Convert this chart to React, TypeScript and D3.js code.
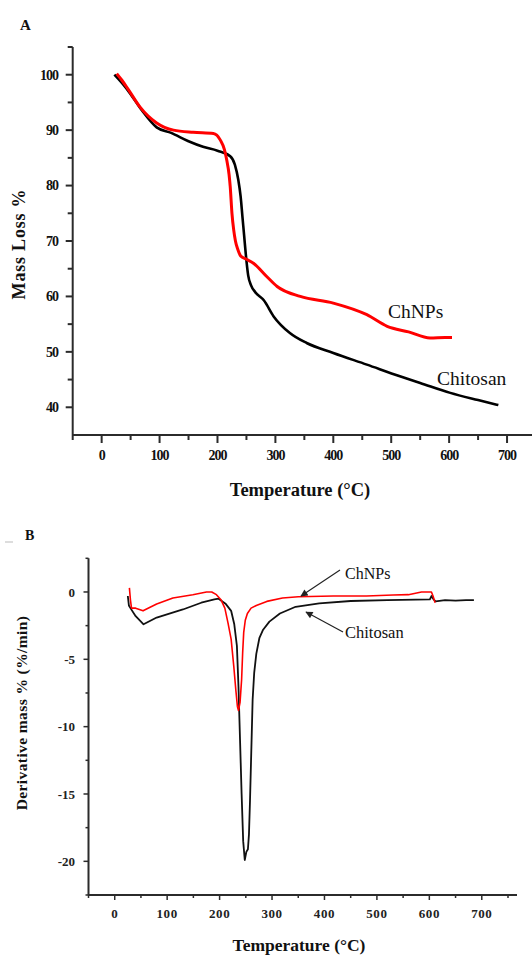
import React from "react";
import * as d3 from "d3";

// Panel A – TGA (mass loss %)
const chitosanTgaT = [22, 35, 50, 70, 95, 120, 150, 175, 200, 222, 230, 236, 240, 243, 246, 249, 253, 258, 265, 280, 297, 325, 354, 400, 458, 515, 550, 602, 650, 685];
const chitosanTgaM = [100, 98.5, 96.5, 93.5, 90.5, 89.5, 88, 87, 86.3, 85.3, 83.8, 81, 78, 74.5, 71, 67.5, 63.8, 62, 60.8, 59.3, 56.4, 53.4, 51.6, 49.8, 47.7, 45.6, 44.4, 42.6, 41.3, 40.4];
const chnpsTgaT = [26, 35, 45, 66, 95, 124, 158, 193, 205, 212, 216, 220, 222, 225, 228, 231, 235, 240, 250, 262, 285, 303, 343, 400, 458, 493, 530, 567, 593, 605];
const chnpsTgaM = [100.2, 99, 97.5, 94.2, 91.3, 90, 89.6, 89.4, 88.2, 86.5, 84.6, 82, 79.8, 75, 72, 70, 68.5, 67.3, 66.7, 66, 63.6, 61.8, 60, 58.8, 56.7, 54.6, 53.6, 52.5, 52.6, 52.6];

// Panel B – DTG (derivative mass %/min)
const chitosanDtgT = [25, 27, 30, 40, 55, 80, 130, 165, 190, 198, 212, 222, 228, 233, 236, 239, 242, 245, 248, 251, 254, 256, 258, 261, 263, 266, 270, 276, 283, 295, 315, 345, 390, 450, 520, 601, 604, 608, 612, 630, 650, 670, 685];
const chitosanDtgD = [-0.3, -1.0, -1.2, -1.8, -2.4, -1.9, -1.3, -0.8, -0.55, -0.5, -0.9, -1.4, -2.4, -4, -7, -11, -15, -18.5, -19.9, -19.3, -19.1, -18, -15.5, -11, -8, -6, -4.6, -3.4, -2.8, -2.2, -1.6, -1.1, -0.85, -0.67, -0.6, -0.55, -0.3, -0.55, -0.7, -0.6, -0.65, -0.6, -0.6];
const chnpsDtgT = [28, 30, 32, 40, 54, 80, 111, 149, 175, 185, 194, 203, 210, 216, 222, 227, 231, 234, 236, 239, 242, 244, 246, 249, 253, 260, 270, 290, 320, 350, 417, 480, 531, 560, 585, 604, 607, 611];
const chnpsDtgD = [0.3, -0.6, -1.2, -1.2, -1.4, -0.9, -0.45, -0.2, 0, 0, -0.2, -0.6, -1.2, -2.3, -3.5, -5.5, -7.3, -8.5, -8.8, -8.2, -6.5, -4.5, -3, -2.1, -1.6, -1.2, -1.0, -0.7, -0.45, -0.35, -0.3, -0.3, -0.22, -0.2, 0, 0, -0.3, -0.8];

// Tick labels
const xTicks = [0, 100, 200, 300, 400, 500, 600, 700];
const xMinorTicks = [-50, 50, 150, 250, 350, 450, 550, 650, 750];
const yTicksA = [40, 50, 60, 70, 80, 90, 100];
const yMinorTicksA = [45, 55, 65, 75, 85, 95, 105];
const yTicksB = [0, -5, -10, -15, -20];
const yMinorTicksB = [2.5, -2.5, -7.5, -12.5, -17.5, -22.5];

const SERIF = "'Liberation Serif', 'Times New Roman', serif";
const AXIS = "#2b2b2b";

function zip(t: number[], v: number[]) {
  return t.map((x, i) => [x, v[i]] as [number, number]);
}

export default function App() {
  // Panel A scales
  const xA = d3.scaleLinear().domain([-50, 750]).range([72.7, 536]);
  const yA = d3.scaleLinear().domain([35, 105]).range([435, 47]);
  // Panel B scales
  const xB = d3.scaleLinear().domain([-50, 750]).range([88.5, 508]);
  const yB = d3.scaleLinear().domain([-22.5, 2.5]).range([895, 558.3]);

  const lineA = d3
    .line<[number, number]>()
    .x((d) => xA(d[0]))
    .y((d) => yA(d[1]))
    .curve(d3.curveMonotoneX);
  const lineB = d3.line<[number, number]>().x((d) => xB(d[0])).y((d) => yB(d[1]));

  const axisA = { x0: xA(-50), y0: yA(35) };
  const axisB = { x0: xB(-50), y0: yB(-22.5) };

  return (
    <svg
      width={532}
      height={957}
      style={{ position: "absolute", left: 0, top: 0, background: "#fff" }}
      fontFamily={SERIF}
    >
      <defs>
        <marker id="arr" viewBox="0 0 10 10" refX="9" refY="5" markerWidth="7" markerHeight="6" orient="auto">
          <path d="M0,0 L10,5 L0,10 z" fill="#222" />
        </marker>
      </defs>
      <rect width={532} height={957} fill="#fff" />

      {/* ---------- Panel A ---------- */}
      <text x={20} y={30} fontSize={15} fontWeight="bold" fill="#111">A</text>
      <line x1={axisA.x0} x2={axisA.x0} y1={yA(105)} y2={axisA.y0} stroke={AXIS} strokeWidth={2} />
      <line x1={axisA.x0} x2={532} y1={axisA.y0} y2={axisA.y0} stroke={AXIS} strokeWidth={2} />
      {yTicksA.map((v) => (
        <g key={"ya" + v}>
          <line x1={axisA.x0 - 7} x2={axisA.x0} y1={yA(v)} y2={yA(v)} stroke={AXIS} strokeWidth={2} />
          <text x={58} y={yA(v)} dy="0.35em" textAnchor="end" fontSize={14} fontWeight="bold" letterSpacing={-1} fill="#111">{v}</text>
        </g>
      ))}
      {yMinorTicksA.map((v) => (
        <line key={"yam" + v} x1={axisA.x0 - 5} x2={axisA.x0} y1={yA(v)} y2={yA(v)} stroke={AXIS} strokeWidth={2} />
      ))}
      {xTicks.map((v) => (
        <g key={"xa" + v}>
          <line x1={xA(v)} x2={xA(v)} y1={axisA.y0} y2={axisA.y0 + 8} stroke={AXIS} strokeWidth={2} />
          <text x={xA(v)} y={460} textAnchor="middle" fontSize={14} fontWeight="bold" letterSpacing={-1} fill="#111">{v}</text>
        </g>
      ))}
      {xMinorTicks.map((v) => (
        <line key={"xam" + v} x1={xA(v)} x2={xA(v)} y1={axisA.y0} y2={axisA.y0 + 5} stroke={AXIS} strokeWidth={2} />
      ))}
      <text x={300} y={496} textAnchor="middle" fontSize={18.5} fontWeight="bold" fill="#111">Temperature (°C)</text>
      <text transform={`translate(25,244) rotate(-90)`} textAnchor="middle" fontSize={18} fontWeight="bold" letterSpacing={0.8} fill="#111">Mass Loss %</text>
      <path d={lineA(zip(chitosanTgaT, chitosanTgaM)) || ""} fill="none" stroke="#000" strokeWidth={2.6} strokeLinejoin="round" />
      <path d={lineA(zip(chnpsTgaT, chnpsTgaM)) || ""} fill="none" stroke="#ff0000" strokeWidth={3} strokeLinejoin="round" />
      <text x={388} y={318} fontSize={19.5} fill="#111">ChNPs</text>
      <text x={437} y={385} fontSize={19.5} fill="#111">Chitosan</text>

      {/* ---------- Panel B ---------- */}
      <line x1={5} x2={13} y1={542} y2={542} stroke="#bbb" strokeWidth={1} />
      <text x={25} y={540} fontSize={14} fontWeight="bold" fill="#111">B</text>
      <line x1={axisB.x0} x2={axisB.x0} y1={yB(2.5)} y2={axisB.y0} stroke={AXIS} strokeWidth={2} />
      <line x1={axisB.x0} x2={517} y1={axisB.y0} y2={axisB.y0} stroke={AXIS} strokeWidth={2} />
      {yTicksB.map((v) => (
        <g key={"yb" + v}>
          <line x1={axisB.x0 - 5} x2={axisB.x0} y1={yB(v)} y2={yB(v)} stroke={AXIS} strokeWidth={1.5} />
          <text x={75} y={yB(v)} dy="0.35em" textAnchor="end" fontSize={13} fontWeight="bold" fill="#222">{v}</text>
        </g>
      ))}
      {yMinorTicksB.map((v) => (
        <line key={"ybm" + v} x1={axisB.x0 - 3} x2={axisB.x0} y1={yB(v)} y2={yB(v)} stroke={AXIS} strokeWidth={1.5} />
      ))}
      {xTicks.map((v) => (
        <g key={"xb" + v}>
          <line x1={xB(v)} x2={xB(v)} y1={axisB.y0} y2={axisB.y0 + 5} stroke={AXIS} strokeWidth={1.5} />
          <text x={xB(v)} y={918} textAnchor="middle" fontSize={13} fontWeight="bold" letterSpacing={0.6} fill="#222">{v}</text>
        </g>
      ))}
      {xMinorTicks.map((v) => (
        <line key={"xbm" + v} x1={xB(v)} x2={xB(v)} y1={axisB.y0} y2={axisB.y0 + 3} stroke={AXIS} strokeWidth={1.5} />
      ))}
      <text x={299} y={951} textAnchor="middle" fontSize={17.5} fontWeight="bold" fill="#111">Temperature (°C)</text>
      <text transform={`translate(27,713) rotate(-90)`} textAnchor="middle" fontSize={15.5} fontWeight="bold" letterSpacing={0.4} fill="#111">Derivative mass % (%/min)</text>
      <path d={lineB(zip(chitosanDtgT, chitosanDtgD)) || ""} fill="none" stroke="#111" strokeWidth={1.8} strokeLinejoin="round" />
      <path d={lineB(zip(chnpsDtgT, chnpsDtgD)) || ""} fill="none" stroke="#ff0000" strokeWidth={1.6} strokeLinejoin="round" />
      <line x1={340} y1={570} x2={301} y2={596} stroke="#222" strokeWidth={1.2} markerEnd="url(#arr)" />
      <text x={345} y={579} fontSize={16} fill="#111">ChNPs</text>
      <line x1={343} y1={632} x2={306} y2={612} stroke="#222" strokeWidth={1.2} markerEnd="url(#arr)" />
      <text x={345} y={638} fontSize={16.5} fill="#111">Chitosan</text>
    </svg>
  );
}
